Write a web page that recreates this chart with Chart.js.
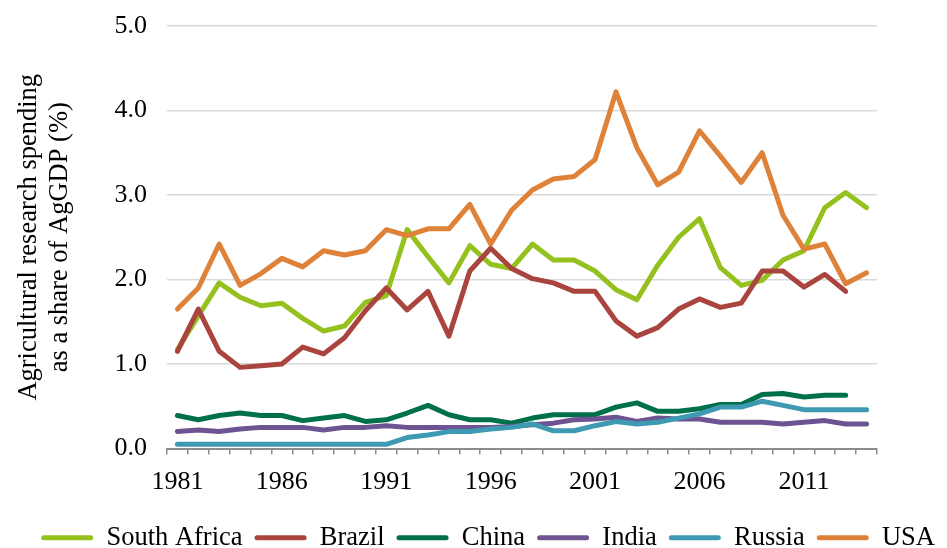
<!DOCTYPE html>
<html>
<head>
<meta charset="utf-8">
<script src="https://cdn.jsdelivr.net/npm/chart.js@4/dist/chart.umd.min.js"></script>
<style>
  html, body { margin: 0; padding: 0; background: #ffffff; }
  #wrap { width: 947px; height: 548px; position: relative; }
</style>
</head>
<body>
<div id="wrap"><canvas id="c" width="947" height="548"></canvas></div>
<script>
const years = [1981,1982,1983,1984,1985,1986,1987,1988,1989,1990,1991,1992,1993,1994,1995,1996,1997,1998,1999,2000,2001,2002,2003,2004,2005,2006,2007,2008,2009,2010,2011,2012,2013,2014];

const southAfrica = [1.17,1.57,1.96,1.79,1.69,1.72,1.54,1.39,1.45,1.73,1.81,2.59,2.27,1.96,2.40,2.18,2.13,2.42,2.23,2.23,2.10,1.88,1.76,2.17,2.50,2.72,2.14,1.93,1.99,2.23,2.34,2.85,3.03,2.85];
const brazil = [1.15,1.65,1.15,0.96,0.98,1.00,1.20,1.12,1.31,1.63,1.90,1.64,1.86,1.33,2.10,2.37,2.13,2.01,1.96,1.86,1.86,1.51,1.33,1.43,1.65,1.77,1.67,1.72,2.10,2.10,1.91,2.06,1.86,null];
const china = [0.39,0.34,0.39,0.42,0.39,0.39,0.33,0.36,0.39,0.32,0.34,0.42,0.51,0.40,0.34,0.34,0.30,0.36,0.40,0.40,0.40,0.49,0.54,0.44,0.44,0.47,0.52,0.52,0.64,0.65,0.61,0.63,0.63,null];
const india = [0.20,0.22,0.20,0.23,0.25,0.25,0.25,0.22,0.25,0.25,0.27,0.25,0.25,0.25,0.25,0.25,0.26,0.28,0.30,0.34,0.35,0.37,0.32,0.36,0.35,0.35,0.31,0.31,0.31,0.29,0.31,0.33,0.29,0.29];
const russia = [0.05,0.05,0.05,0.05,0.05,0.05,0.05,0.05,0.05,0.05,0.05,0.13,0.16,0.20,0.20,0.23,0.25,0.29,0.21,0.21,0.27,0.32,0.29,0.31,0.36,0.41,0.49,0.49,0.56,0.51,0.46,0.46,0.46,0.46];
const usa = [1.65,1.90,2.42,1.93,2.07,2.25,2.15,2.34,2.29,2.34,2.59,2.52,2.60,2.60,2.89,2.42,2.82,3.06,3.19,3.22,3.42,4.22,3.56,3.12,3.27,3.76,3.46,3.15,3.50,2.76,2.36,2.42,1.95,2.08];

const seriesNames = ['South Africa','Brazil','China','India','Russia','USA'];
const seriesData = [southAfrica, brazil, china, india, russia, usa];
const seriesColors = ['#95C11F','#A9443F','#00704A','#6D5392','#3E9AB2','#DE8239'];

const FONT = "'Liberation Serif', 'Times New Roman', serif";

const datasets = seriesNames.map((name, i) => ({
  label: name,
  data: seriesData[i],
  borderColor: seriesColors[i],
  backgroundColor: seriesColors[i],
  borderWidth: 5,
  pointRadius: 0,
  pointHoverRadius: 0,
  tension: 0,
  borderCapStyle: 'round',
  borderJoinStyle: 'round',
  spanGaps: false,
  order: seriesNames.length - 1 - i
}));

new Chart(document.getElementById('c'), {
  type: 'line',
  data: { labels: years, datasets: datasets },
  options: {
    responsive: false,
    animation: false,
    devicePixelRatio: 1,
    layout: { padding: { top: 26, left: 0, right: 0, bottom: -13 } },
    plugins: {
      tooltip: { enabled: false },
      legend: {
        position: 'bottom',
        align: 'end',
        labels: {
          font: { family: FONT, size: 26.5 },
          color: '#000000',
          boxWidth: 52,
          boxHeight: 5,
          padding: 12,
          useBorderRadius: true,
          borderRadius: 2.5,
          sort: (a, b) => a.datasetIndex - b.datasetIndex,
          generateLabels: (chart) => {
            const items = Chart.defaults.plugins.legend.labels.generateLabels(chart);
            return items.map(it => Object.assign(it, { lineWidth: 0 }));
          }
        }
      }
    },
    scales: {
      x: {
        type: 'category',
        offset: true,
        grid: {
          display: true,
          offset: true,
          drawOnChartArea: false,
          drawTicks: true,
          tickLength: 6,
          color: '#8c8c8c',
          lineWidth: 1.5
        },
        border: { display: true, color: '#8c8c8c', width: 2 },
        ticks: {
          autoSkip: false,
          maxRotation: 0,
          minRotation: 0,
          padding: 12,
          color: '#000000',
          font: { family: FONT, size: 26 },
          callback: function (val, idx) { return idx % 5 === 0 ? this.getLabelForValue(val) : ''; }
        },
        afterFit: (s) => { s.height = 64; }
      },
      y: {
        position: 'left',
        min: 0,
        max: 5,
        grid: { color: '#d9d9d9', lineWidth: 1.5, drawTicks: true, tickLength: 20, tickColor: 'rgba(0,0,0,0)' },
        border: { display: false },
        ticks: {
          stepSize: 1,
          padding: 0,
          color: '#000000',
          font: { family: FONT, size: 26 },
          callback: (v) => Number(v).toFixed(1)
        },
        title: {
          display: true,
          text: ['Agricultural research spending', 'as a share of AgGDP (%)'],
          color: '#000000',
          font: { family: FONT, size: 26.5, lineHeight: 1.15 },
          padding: { top: 14, bottom: 0 }
        },
        afterFit: (s) => { s.width = 167; }
      },
      yRight: {
        type: 'linear',
        position: 'right',
        display: true,
        grid: { display: false, drawTicks: false },
        border: { display: false },
        ticks: { display: false, padding: 0 },
        afterFit: (s) => { s.width = 70; }
      }
    }
  }
});
</script>
</body>
</html>
